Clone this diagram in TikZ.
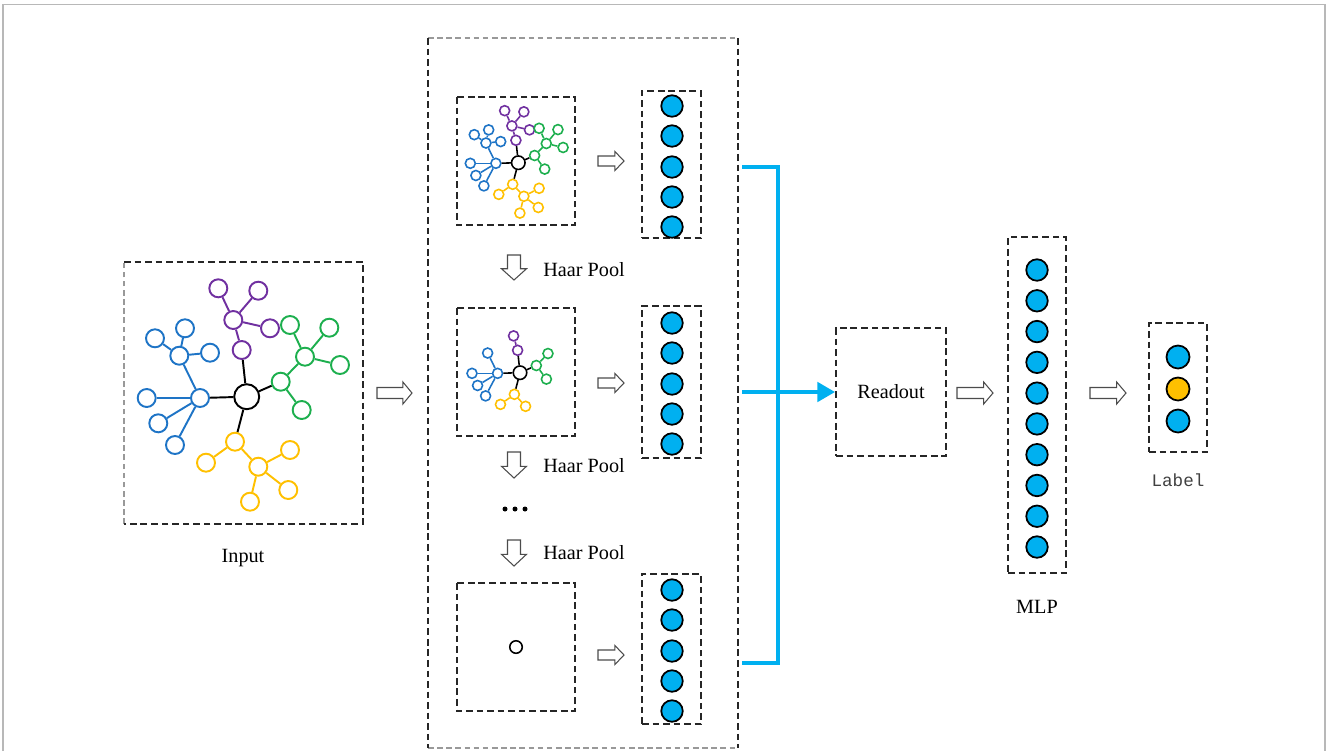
\documentclass[tikz,border=0pt]{standalone}
\usepackage{fontspec}
\setmainfont{Liberation Serif}
\newfontfamily\labelfont{Liberation Mono}
\usetikzlibrary{arrows.meta}

\definecolor{tblue}{HTML}{1E74C6}
\definecolor{tpurple}{HTML}{7030A0}
\definecolor{tgreen}{HTML}{1DAF4E}
\definecolor{tyellow}{HTML}{FFC000}
\definecolor{tcyan}{HTML}{00B0F0}
\definecolor{torange}{HTML}{FFC000}

% sizes used by the tree drawing (changed before each copy)
\newcommand\tleaf{0.36cm}
\newcommand\tcen{0.5cm}
\newcommand\tlw{1.1pt}

\tikzset{
  box/.style={draw=black!85, line width=1.1pt, dash pattern=on 3.8pt off 2.2pt},
  fbox/.style={draw=black!40, line width=0.9pt, dash pattern=on 3.2pt off 2pt},
  framegray/.style={draw=black!28, line width=0.9pt},
  hollow/.style={draw=black!70, fill=white, line width=0.6pt, line join=miter},
  unit/.style={circle, draw=black, line width=1pt, fill=tcyan, minimum size=0.43cm, inner sep=0pt},
  tn/.style={circle, draw=#1, fill=white, line width=\tlw, inner sep=0pt, minimum size=\tleaf},
  te/.style={draw=#1, line width=\tlw},
  link/.style={draw=tcyan, line width=2pt, line join=miter},
  lbl/.style={inner sep=0pt, text=black}
}

% hollow arrow pointing right: left x, centre y, length, body half-height, head half-height, body share
\newcommand\rarrow[6]{%
  \draw[hollow] (#1,#2-#4) -- (#1+#3*#6,#2-#4) -- (#1+#3*#6,#2-#5) -- (#1+#3,#2)
    -- (#1+#3*#6,#2+#5) -- (#1+#3*#6,#2+#4) -- (#1,#2+#4) -- cycle;}
% hollow arrow pointing down: centre x, top y, length, body half-width, head half-width, body share
\newcommand\darrow[6]{%
  \draw[hollow] (#1-#4,#2) -- (#1+#4,#2) -- (#1+#4,#2+#3*#6) -- (#1+#5,#2+#3*#6) -- (#1,#2+#3)
    -- (#1-#5,#2+#3*#6) -- (#1-#4,#2+#3*#6) -- cycle;}

% tree graph: prefix, centre x, centre y, scale, outer leaves (1/0)
\newcommand\drawtree[5]{%
  \begin{scope}[shift={(#2,#3)}, scale=#4, name prefix=#1-]
    \node[tn=black, minimum size=\tcen] (c) at (0,0) {};
    \node[tn=tblue] (bh) at (-46.7,1.3) {};
    \node[tn=tblue] (bl1) at (-100,1.3) {};
    \node[tn=tblue] (bl2) at (-88.4,26.6) {};
    \node[tn=tblue] (bl3) at (-71.7,48.3) {};
    \node[tn=tblue] (bs) at (-67.4,-41) {};
    \node[tn=tpurple] (ps) at (-5,-46.7) {};
    \node[tn=tpurple] (ph) at (-13.4,-76.7) {};
    \node[tn=tgreen] (gh) at (34,-15) {};
    \node[tn=tgreen] (gs) at (58.3,-40) {};
    \node[tn=tgreen] (gl) at (55,13.3) {};
    \node[tn=tyellow] (yn) at (-11.7,45) {};
    \node[tn=tyellow] (yl) at (-40.7,66) {};
    \node[tn=tyellow] (yh) at (11.6,70) {};
    \foreach \n in {bh,ps,gh,yn} \draw[te=black] (c) -- (\n);
    \foreach \n in {bl1,bl2,bl3,bs} \draw[te=tblue] (bh) -- (\n);
    \draw[te=tpurple] (ps) -- (ph);
    \foreach \n in {gs,gl} \draw[te=tgreen] (gh) -- (\n);
    \foreach \n in {yl,yh} \draw[te=tyellow] (yn) -- (\n);
    \ifnum#5=1
      \node[tn=tblue] (bs1) at (-91.7,-58.4) {};
      \node[tn=tblue] (bs2) at (-61.7,-68.4) {};
      \node[tn=tblue] (bs3) at (-36.7,-44) {};
      \node[tn=tpurple] (pl1) at (-28.4,-108.4) {};
      \node[tn=tpurple] (pl2) at (11.6,-106) {};
      \node[tn=tpurple] (pl3) at (23.3,-68.4) {};
      \node[tn=tgreen] (gs1) at (43.3,-71.7) {};
      \node[tn=tgreen] (gs2) at (82.6,-69) {};
      \node[tn=tgreen] (gs3) at (93.3,-31.7) {};
      \node[tn=tyellow] (yh1) at (43.3,53.3) {};
      \node[tn=tyellow] (yh2) at (41.6,93.3) {};
      \node[tn=tyellow] (yh3) at (3.3,105) {};
      \foreach \n in {bs1,bs2,bs3} \draw[te=tblue] (bs) -- (\n);
      \foreach \n in {pl1,pl2,pl3} \draw[te=tpurple] (ph) -- (\n);
      \foreach \n in {gs1,gs2,gs3} \draw[te=tgreen] (gs) -- (\n);
      \foreach \n in {yh1,yh2,yh3} \draw[te=tyellow] (yh) -- (\n);
    \fi
  \end{scope}}

\begin{document}
\begin{tikzpicture}[x=0.02cm, y=-0.02cm, font=\fontsize{11.5}{13}\selectfont]
\useasboundingbox (0,0) rectangle (1328,751);

% thin outer frame
\draw[framegray] (3,751) -- (3,4.5) -- (1325,4.5) -- (1325,751);

% ---- input graph ----
\draw[fbox] (124,524) -- (124,262);
\draw[box] (124,262) -- (363,262) -- (363,524) -- (124,524);
\drawtree{in}{246.7}{396.7}{1}{1}
\node[lbl] (inputlbl) at (243,558) {Input};

\rarrow{377}{393}{35}{5.5}{11}{0.74}

% ---- pooling stack ----
\draw[fbox] (428,38) -- (738,38);
\draw[fbox] (428,748) -- (738,748);
\draw[box] (428,38) -- (428,748);
\draw[box] (738,38) -- (738,748);

\draw[box] (457,97) rectangle (575,225);
\draw[box] (457,308) rectangle (575,436);
\draw[box] (457,583) rectangle (575,711);

\renewcommand\tleaf{0.2cm}
\renewcommand\tcen{0.27cm}
\renewcommand\tlw{0.9pt}
\drawtree{ga}{518.3}{162.7}{0.48}{1}
\drawtree{gb}{520}{372.7}{0.48}{0}
\node[tn=black, minimum size=0.25cm] (gc-c) at (516,647) {};

% hidden feature vectors
\node[box, minimum width=1.18cm, minimum height=2.94cm, inner sep=0pt] (col1) at (671.5,164.5) {};
\node[box, minimum width=1.18cm, minimum height=3.04cm, inner sep=0pt] (col2) at (671.5,382) {};
\node[box, minimum width=1.18cm, minimum height=3.0cm, inner sep=0pt] (col3) at (671.5,649) {};
\foreach \i/\y in {1/106,2/136,3/167,4/197,5/227} \node[unit] (ua\i) at (672,\y) {};
\foreach \i/\y in {1/323,2/353,3/384,4/414,5/444} \node[unit] (ub\i) at (672,\y) {};
\foreach \i/\y in {1/590,2/620,3/651,4/681,5/711} \node[unit] (uc\i) at (672,\y) {};

\rarrow{598}{161}{26}{5}{9.5}{0.65}
\rarrow{598}{383}{26}{5}{9.5}{0.65}
\rarrow{598}{655}{26}{5}{9.5}{0.65}

\darrow{514}{255}{25}{6.5}{12.5}{0.55}
\darrow{514}{452}{26}{6.5}{12.5}{0.55}
\darrow{514}{540}{26}{6.5}{12.5}{0.55}
\node[lbl, anchor=west] (hp1) at (543,270) {Haar Pool};
\node[lbl, anchor=west] (hp2) at (543,466) {Haar Pool};
\node[lbl, anchor=west] (hp3) at (543,553) {Haar Pool};
\foreach \x in {505,515,525} \fill (\x,509) circle (2.5);

% ---- readout ----
\node[box, minimum width=2.2cm, minimum height=2.56cm, inner sep=0pt] (readout) at (891,392) {Readout};

\coordinate (t1) at (742,167);
\coordinate (t2) at (742,392);
\coordinate (t3) at (742,663);
\coordinate (j1) at (778,167);
\coordinate (j3) at (778,663);
\draw[link] (t1) -- (j1) -- (j3) -- (t3);
\draw[link, -{Triangle[length=10pt, width=11pt]}] (t2) -- (readout.west);

\rarrow{957}{393}{36}{5.5}{11}{0.74}

% ---- MLP ----
\node[box, minimum width=1.16cm, minimum height=6.72cm, inner sep=0pt] (mlp) at (1037,405) {};
\foreach \i in {0,...,9} \node[unit] (m\i) at (1037,270+\i*30.78) {};
\node[lbl] (mlplbl) at (1037,607) {MLP};

\rarrow{1090}{393}{36}{5.5}{11}{0.74}

% ---- label ----
\node[box, minimum width=1.16cm, minimum height=2.58cm, inner sep=0pt] (lab) at (1178,387.5) {};
\node[unit, minimum size=0.46cm] (o1) at (1178,357) {};
\node[unit, minimum size=0.46cm, fill=torange] (o2) at (1178,389) {};
\node[unit, minimum size=0.46cm] (o3) at (1178,421) {};
\node[lbl, font=\labelfont\fontsize{10}{12}\selectfont, text=black!75] (labtxt) at (1178,480) {Label};
\end{tikzpicture}
\end{document}
